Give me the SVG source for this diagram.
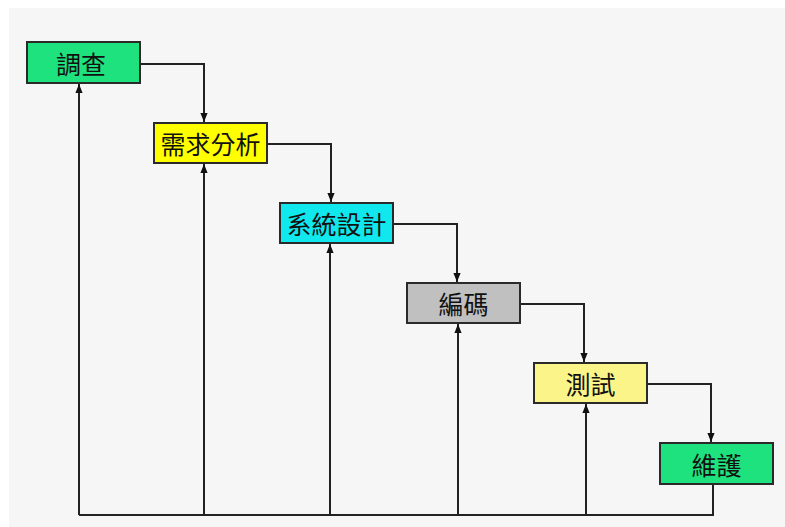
<svg xmlns="http://www.w3.org/2000/svg" width="785" height="527" viewBox="0 0 785 527">
<defs>
<style>
.box{stroke:#2a2a2a;stroke-width:2}
.lbl{font-family:"Noto Sans CJK TC","Noto Sans CJK SC",sans-serif;font-size:25px;fill:#111;text-anchor:middle;dominant-baseline:central}
.ln{fill:none;stroke:#222;stroke-width:2}
</style>
<marker id="ah" viewBox="0 0 10 8" refX="10" refY="4" markerWidth="4.5" markerHeight="4" orient="auto" markerUnits="strokeWidth">
<path d="M0,0 L10,4 L0,8 z" fill="#111"/>
</marker>
</defs>
<rect x="0" y="0" width="785" height="527" fill="#ffffff"/>
<rect x="9" y="8" width="776" height="519" fill="#f6f6f6"/>
<g id="connectors">
<path class="ln" marker-end="url(#ah)" d="M141,64 H204 V122"/>
<path class="ln" marker-end="url(#ah)" d="M268,144 H331 V202"/>
<path class="ln" marker-end="url(#ah)" d="M394,224 H457 V282"/>
<path class="ln" marker-end="url(#ah)" d="M521,304 H584 V362"/>
<path class="ln" marker-end="url(#ah)" d="M648,384 H711 V442"/>
<path class="ln" d="M713,484 V515 H79"/>
<path class="ln" marker-end="url(#ah)" d="M79,515 V84"/>
<path class="ln" marker-end="url(#ah)" d="M204,515 V164"/>
<path class="ln" marker-end="url(#ah)" d="M330,515 V244"/>
<path class="ln" marker-end="url(#ah)" d="M458,515 V324"/>
<path class="ln" marker-end="url(#ah)" d="M586,515 V404"/>
</g>
<g id="n1"><rect class="box" x="27" y="42" width="113" height="41" fill="#1ee27e"/><text class="lbl" x="81" y="63">調查</text></g>
<g id="n2"><rect class="box" x="154" y="123" width="113" height="40" fill="#ffff00"/><text class="lbl" x="210.5" y="143">需求分析</text></g>
<g id="n3"><rect class="box" x="280" y="203" width="113" height="40" fill="#10e8ee"/><text class="lbl" x="336.5" y="223">系統設計</text></g>
<g id="n4"><rect class="box" x="407" y="283" width="113" height="40" fill="#c0c0c0"/><text class="lbl" x="463.5" y="303">編碼</text></g>
<g id="n5"><rect class="box" x="534" y="363" width="113" height="40" fill="#fbf589"/><text class="lbl" x="590.5" y="383">測試</text></g>
<g id="n6"><rect class="box" x="660" y="443" width="113" height="41" fill="#1ee27e"/><text class="lbl" x="716.5" y="464">維護</text></g>
</svg>
